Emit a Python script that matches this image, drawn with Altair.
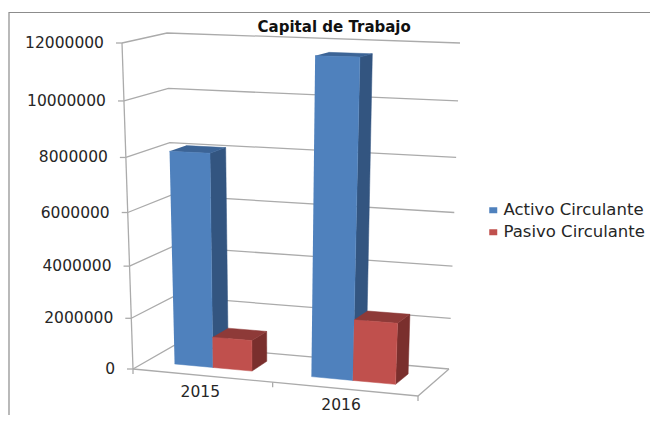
import altair as alt
import pandas as pd

years = ["2015", "2016"]
activo = [8100000, 11620000]
pasivo = [1200000, 2320000]
tick_values = [0, 2000000, 4000000, 6000000, 8000000, 10000000, 12000000]
series_names = ["Activo Circulante", "Pasivo Circulante"]
series_colors = ["#4F81BD", "#C0504D"]
side_colors = ["#335580", "#7A2F2D"]
top_colors = ["#3C6496", "#8E3A38"]
axis_max = 12000000

# 3D box of the plot, as seen by the camera (corner -> picture position)
FLB, FRB, BLB, BRB = (133, 369), (418, 396), (175, 345), (449, 369)
FLT, FRT, BLT, BRT = (122, 43), (433, 50), (167, 33), (460, 43)


def project(u, v, value):
    w = value / axis_max
    w = w * (0.92 + 0.08 * w)
    pt = []
    for i in (0, 1):
        bottom = (1 - v) * ((1 - u) * FLB[i] + u * FRB[i]) + v * ((1 - u) * BLB[i] + u * BRB[i])
        top = (1 - v) * ((1 - u) * FLT[i] + u * FRT[i]) + v * ((1 - u) * BLT[i] + u * BRT[i])
        pt.append((1 - w) * bottom + w * top)
    return pt


rows = []


def add(pid, pts, color, width=0, fill=None):
    for k, p in enumerate(pts):
        rows.append(dict(pid=pid, k=k, x=p[0], y=p[1], color=color, fill=fill or "none", sw=width))


GRID = "#ABABAB"
for t in tick_values:
    add(f"g{t}", [project(0, 0, t), project(0, 1, t), project(1, 1, t)], GRID, 1.3)
    a = project(0, 0, t)
    add(f"t{t}", [(a[0] - 6, a[1]), a], GRID, 1.3)
add("left", [project(0, 0, 0), project(0, 0, axis_max)], GRID, 1.3)
add("floor", [project(0, 0, 0), project(1, 0, 0), project(1, 1, 0)], GRID, 1.3)
for u in (0, 0.49, 1):
    a = project(u, 0, 0)
    add(f"c{u}", [a, (a[0], a[1] + 5)], GRID, 1.3)

bar_u = [[(0.10, 0.236), (0.236, 0.375)], [(0.586, 0.733), (0.733, 0.885)]]
V0, V1 = 0.32, 0.71
for c, year in enumerate(years):
    for s, vals in enumerate((activo, pasivo)):
        u0, u1 = bar_u[c][s]
        h = vals[c]
        base = f"{year}{s}"
        add(base + "side", [project(u1, V0, 0), project(u1, V1, 0), project(u1, V1, h), project(u1, V0, h)],
            side_colors[s], 0.5, side_colors[s])
        add(base + "top", [project(u0, V0, h), project(u1, V0, h), project(u1, V1, h), project(u0, V1, h)],
            top_colors[s], 0.5, top_colors[s])
        add(base + "front", [project(u0, V0, 0), project(u1, V0, 0), project(u1, V0, h), project(u0, V0, h)],
            series_colors[s], 0.5, series_colors[s])

poly = pd.DataFrame(rows)
poly["seq"] = range(len(poly))

x_enc = alt.X("x:Q", axis=None, scale=alt.Scale(domain=[8, 650], range=[0, 642]))
y_enc = alt.Y("y:Q", axis=None, scale=alt.Scale(domain=[8, 415], range=[0, 407]))

lines = alt.Chart(poly).mark_line(interpolate="linear", strokeJoin="miter").encode(
    x=x_enc, y=y_enc,
    detail="pid:N",
    order="seq:Q",
    stroke=alt.Stroke("color:N", scale=None),
    fill=alt.Fill("fill:N", scale=None),
    strokeWidth=alt.StrokeWidth("sw:Q", scale=None),
)

val_labels = pd.DataFrame(
    [dict(x=project(0, 0, t)[0] - 18, y=project(0, 0, t)[1], label=str(t)) for t in tick_values]
)
value_text = alt.Chart(val_labels).mark_text(
    align="right", baseline="middle", font="DejaVu Sans", fontSize=15.5, color="#262626"
).encode(x=x_enc, y=y_enc, text="label:N")

cat_labels = pd.DataFrame(
    [dict(x=project(u, 0, 0)[0], y=project(u, 0, 0)[1] + 16.5, label=yr) for u, yr in zip((0.236, 0.73), years)]
)
cat_text = alt.Chart(cat_labels).mark_text(
    align="center", baseline="middle", font="DejaVu Sans", fontSize=15.5, color="#262626"
).encode(x=x_enc, y=y_enc, text="label:N")

legend_data = pd.DataFrame({"series": series_names, "x": [500, 500], "y": [211, 232]})
legend_layer = alt.Chart(legend_data).mark_point(filled=True, opacity=0).encode(
    x=x_enc, y=y_enc,
    color=alt.Color(
        "series:N",
        scale=alt.Scale(domain=series_names, range=series_colors),
        legend=alt.Legend(
            title=None, orient="none", legendX=477, legendY=194,
            symbolType="M-1,-0.75H1V0.75H-1Z", symbolSize=64, symbolOpacity=1,
            labelFont="DejaVu Sans", labelFontSize=16.5, labelColor="#262626",
            rowPadding=5, labelOffset=2,
        ),
    ),
)

frame = pd.DataFrame({"x": [9, 9, 650], "y": [415, 12.5, 12.5], "k": [0, 1, 2]})
frame_line = alt.Chart(frame).mark_line(color="#8C8C8C", strokeWidth=1.2).encode(x=x_enc, y=y_enc, order="k:Q")

chart = (
    alt.layer(frame_line, lines, value_text, cat_text, legend_layer)
    .properties(
        width=642, height=407, padding=0, autosize=alt.AutoSizeParams(type="none"),
        title=alt.TitleParams(
            "Capital de Trabajo", font="DejaVu Sans", fontSize=15, fontWeight="bold",
            color="#111111", anchor="start", offset=-27, dx=251,
        ),
    )
    .configure_view(stroke=None)
)
chart.save("out.html", embed_options={"renderer": "svg", "actions": False})
